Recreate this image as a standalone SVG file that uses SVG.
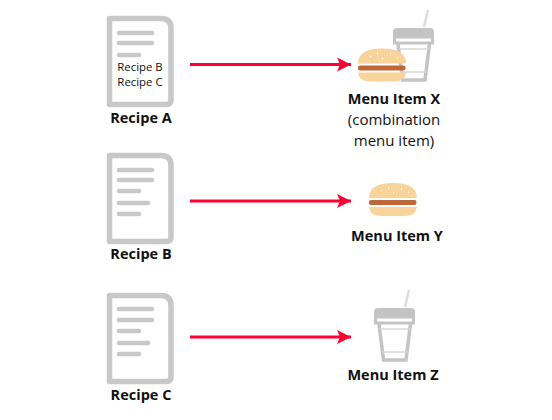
<svg xmlns="http://www.w3.org/2000/svg" width="552" height="420" viewBox="0 0 552 420">
<style>
.t{font-family:"Open Sans","Liberation Sans",sans-serif;fill:#111}
.b{font-size:14.500px;font-weight:700;text-anchor:middle}
.r{font-size:15px;text-anchor:middle}
.s{font-size:11.400px;text-anchor:middle}
.ln{stroke:#c8c8c8;stroke-width:4.500;stroke-linecap:round;fill:none}
.doc{fill:#fff;stroke:#c8c8c8;stroke-width:5.500;stroke-linejoin:round}
.cup{fill:none;stroke:#c4c4c4;stroke-width:3.500}
.conn{stroke:#ff0033;stroke-width:3;fill:none;marker-end:url(#ah)}
</style>
<defs>
<marker id="ah" markerUnits="userSpaceOnUse" markerWidth="16" markerHeight="16" refX="14" refY="8" orient="auto"><path d="M0 1 L14 8 L0 15 L3 8Z" fill="#ff0033"/></marker>
<g id="docshape"><path class="doc" d="M109.500 18.500H161Q171 18.500 171 28.500V100Q171 104.500 166.500 104.500H109.500Z"/></g>
<g id="burger">
<path d="M369 198Q369 183 393 183Q417 183 417 198Z" fill="#f8d49a"/>
<rect x="369" y="200" width="47.500" height="5" rx="2" fill="#c0673a"/>
<path d="M369 207H417Q416 216 405 216H381Q370 216 369 207Z" fill="#f8d49a"/>
<g fill="#fff"><rect x="381" y="190" width="1" height="2"/><rect x="388" y="187" width="1" height="2"/><rect x="393" y="192" width="1" height="2"/><rect x="401" y="188" width="1" height="2"/><rect x="408" y="191" width="1" height="2"/></g>
</g>
<g id="cup">
<path d="M409 290L405 307" stroke="#dcdcdc" stroke-width="2.500" fill="none"/>
<path d="M374 317V312Q374 308 378 308H411Q415 308 415 312V317Z" fill="#c4c4c4"/>
<rect x="375.500" y="317" width="38" height="6" fill="#fff" stroke="#c4c4c4" stroke-width="3"/>
<path class="cup" d="M379 324L383.500 360H406L410.500 324"/>
<path d="M380 329H410M382.500 352H407.500" stroke="#d8d8d8" stroke-width="1.500" fill="none"/>
</g>
</defs>
<g id="connectors">
<line class="conn" x1="190" y1="64.500" x2="351" y2="64.500"/>
<line class="conn" x1="190" y1="201" x2="351" y2="201"/>
<line class="conn" x1="190" y1="337" x2="351" y2="337"/>
</g>
<g id="recipe-a">
<use href="#docshape"/>
<path class="ln" d="M119 33H152M119 43H152M119 55H139"/>
<text class="t s" x="140" y="71">Recipe B</text>
<text class="t s" x="140" y="86">Recipe C</text>
<text class="t b" x="141" y="123">Recipe A</text>
</g>
<g id="recipe-b">
<use href="#docshape" y="137"/>
<path class="ln" d="M119 170H152M119 180H152M119 191H139M119 203H148M119 214H139"/>
<text class="t b" x="141" y="259">Recipe B</text>
</g>
<g id="recipe-c">
<use href="#docshape" y="277"/>
<path class="ln" d="M119 309H152M119 320H152M119 331H139M119 343H148M119 354H139"/>
<text class="t b" x="141" y="400">Recipe C</text>
</g>
<g id="menu-x">
<use href="#cup" x="19" y="-280"/>
<use href="#burger" x="-11" y="-134.500"/>
<text class="t b" x="394" y="104">Menu Item X</text>
<text class="t r" x="394" y="125">(combination</text>
<text class="t r" x="394" y="146">menu item)</text>
</g>
<g id="menu-y">
<use href="#burger"/>
<text class="t b" x="397" y="241">Menu Item Y</text>
</g>
<g id="menu-z">
<use href="#cup"/>
<text class="t b" x="393" y="380">Menu Item Z</text>
</g>
</svg>
